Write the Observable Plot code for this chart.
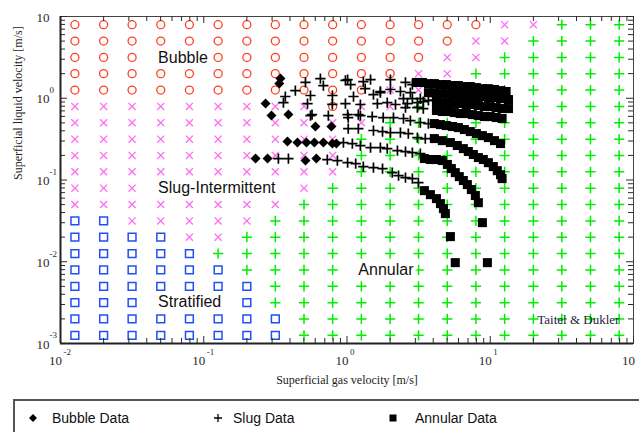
<!DOCTYPE html>
<html>
<head>
<meta charset="utf-8">
<script src="https://cdn.jsdelivr.net/npm/d3@7"></script>
<script src="https://cdn.jsdelivr.net/npm/@observablehq/plot@0.6"></script>
<style>
  html, body { margin: 0; padding: 0; background: #fff; overflow: hidden; }
  #chart svg { display: block; }
  #legend {
    position: relative; margin: 3px 0 0 13px; width: 700px; height: 40px;
    border-top: 2px solid #555; border-left: 2px solid #555;
    font-family: "Liberation Sans", Arial, sans-serif; font-size: 14px; color: #111;
  }
  #legend .item { position: absolute; top: 8px; height: 18px; line-height: 18px; white-space: nowrap; }
  #legend svg { position: absolute; top: 4px; }
</style>
</head>
<body>
<div id="chart"></div>
<div id="legend"></div>
<script>
// Taitel & Dukler regime map, sampled on a 20 x 20 grid (superficial velocities, m/s)
const gridUsg = [0.0126, 0.02, 0.0316, 0.0501, 0.0794, 0.126, 0.2, 0.316, 0.501, 0.794,
                 1.26, 2, 3.16, 5.01, 7.94, 12.6, 20, 31.6, 50.1, 79.4];
const gridUsl = [7.94, 5.01, 3.16, 2, 1.26, 0.794, 0.501, 0.316, 0.2, 0.126,
                 0.0794, 0.0501, 0.0316, 0.02, 0.0126, 0.00794, 0.00501, 0.00316, 0.002, 0.00126];

// one string per liquid row (top row first): b = bubble, i = slug-intermittent, a = annular, s = stratified
const R = (c, n) => c.repeat(n);
const regimeRows = [
  R("b", 15) + R("i", 2) + R("a", 3),
  R("b", 14) + R("i", 2) + R("a", 4),
  R("b", 13) + R("i", 2) + R("a", 5),
  R("b", 12) + R("i", 2) + R("a", 6),
  R("b", 11) + R("i", 2) + R("a", 7),
  R("i", 9) + "b" + R("i", 2) + R("a", 8),
  R("i", 11) + R("a", 9),
  R("i", 10) + R("a", 10),
  R("i", 10) + R("a", 10),
  R("i", 10) + R("a", 10),
  R("i", 9) + R("a", 11),
  R("i", 8) + R("a", 12),
  R("s", 2) + R("i", 5) + R("a", 13),
  R("s", 4) + R("i", 2) + R("a", 14),
  R("s", 5) + R("a", 15),
  R("s", 6) + R("a", 14),
  R("s", 7) + R("a", 13),
  R("s", 7) + R("a", 13),
  R("s", 8) + R("a", 12),
  R("s", 8) + R("a", 12)
];

const regimeLabels = [
  {usg: 0.048, usl: 3.15, label: "Bubble"},
  {usg: 0.048, usl: 0.0807, label: "Slug-Intermittent"},
  {usg: 0.048, usl: 0.00325, label: "Stratified"},
  {usg: 1.2, usl: 0.0080, label: "Annular"}
];
const mapSource = [{usg: 21.3, usl: 0.00195, label: "Taitel & Dukler"}];

// measured points [Usg, Usl]
const bubbleData = [
  [0.343, 1.74], [0.337, 1.51], [0.270, 0.861], [0.297, 0.614], [0.390, 0.631],
  [0.602, 0.451], [0.778, 0.451], [0.384, 0.295], [0.451, 0.287], [0.521, 0.287],
  [0.592, 0.287], [0.684, 0.287], [0.790, 0.279], [0.843, 0.279], [0.230, 0.183],
  [0.279, 0.183], [0.513, 0.173], [0.611, 0.183]
];

const slugData = [
  [0.436, 1.24], [0.513, 1.56], [0.652, 1.74], [0.684, 1.43], [0.975, 1.65], [1.01, 1.69],
  [1.06, 1.47], [1.30, 1.60], [1.46, 1.69], [1.34, 1.31], [2.01, 1.69], [2.56, 1.56],
  [2.86, 1.47], [1.71, 1.17],
  [0.371, 1.05], [0.360, 0.885], [0.556, 1.08], [0.791, 1.08], [1.11, 1.05], [1.53, 1.11],
  [1.71, 1.21], [2.01, 1.28], [2.36, 1.21], [2.77, 1.17], [2.48, 0.99], [2.86, 0.99],
  [3.25, 0.99], [3.70, 0.94], [4.01, 0.94],
  [0.530, 0.861], [0.79, 0.84], [0.975, 0.861], [1.24, 0.838], [1.63, 0.861], [1.91, 0.885],
  [2.18, 0.838], [2.64, 0.861], [3.10, 0.885], [3.41, 0.91], [2.56, 0.769], [3.10, 0.769],
  [3.41, 0.748],
  [0.556, 0.614], [0.57, 0.631], [0.741, 0.614], [1.02, 0.581], [1.01, 0.631], [1.20, 0.631],
  [1.24, 0.614], [1.50, 0.597], [1.79, 0.581], [2.11, 0.581], [2.48, 0.565], [2.77, 0.533],
  [3.25, 0.505], [3.70, 0.490],
  [1.02, 0.426], [1.20, 0.426], [1.53, 0.403], [1.77, 0.391], [2.01, 0.380], [2.36, 0.380],
  [2.68, 0.370], [3.10, 0.330], [3.52, 0.321],
  [0.944, 0.287], [1.09, 0.279], [1.24, 0.264], [1.46, 0.249], [1.71, 0.249], [1.91, 0.242],
  [2.25, 0.229], [2.56, 0.223], [2.86, 0.216], [3.25, 0.210],
  [0.332, 0.183], [0.390, 0.183], [0.729, 0.178], [0.857, 0.173], [1.01, 0.163], [1.15, 0.159],
  [1.30, 0.146], [1.53, 0.142], [1.77, 0.138], [2.07, 0.123], [2.29, 0.113], [2.56, 0.107],
  [2.86, 0.104], [3.15, 0.0929]
];

const annularData = [
  // highest liquid rates
  [3.05, 1.56], [3.36, 1.56], [3.70, 1.51], [4.07, 1.51], [4.49, 1.47], [4.94, 1.47],
  [5.45, 1.43], [5.99, 1.43], [6.59, 1.39], [7.26, 1.39], [8.00, 1.35], [8.81, 1.31],
  [9.70, 1.31], [10.7, 1.28], [11.8, 1.24], [12.9, 1.21],
  [3.70, 1.17], [4.07, 1.17], [4.49, 1.14], [4.94, 1.14], [5.45, 1.11], [5.99, 1.11],
  [6.59, 1.08], [7.26, 1.08], [8.00, 1.05], [8.81, 1.05], [9.70, 1.02], [10.7, 1.02],
  [11.8, 0.99], [13.4, 0.964],
  [4.21, 0.91], [4.63, 0.885], [5.10, 0.885], [5.61, 0.861], [6.18, 0.861], [6.81, 0.838],
  [7.50, 0.838], [8.26, 0.815], [9.10, 0.791], [10.0, 0.791], [11.0, 0.769], [12.1, 0.748],
  [13.4, 0.748],
  [4.21, 0.708], [4.63, 0.688], [5.10, 0.688], [5.61, 0.668], [6.18, 0.650], [6.81, 0.650],
  [7.50, 0.631], [8.26, 0.614], [9.10, 0.597], [10.0, 0.597], [11.0, 0.581], [12.1, 0.565],
  // middle liquid rates
  [4.07, 0.490], [4.49, 0.476], [4.94, 0.463], [5.45, 0.451], [5.99, 0.438], [6.59, 0.414],
  [7.26, 0.391], [8.00, 0.370], [8.81, 0.349], [9.70, 0.330], [10.7, 0.303], [11.8, 0.279],
  [4.07, 0.321], [4.63, 0.303], [5.27, 0.287], [5.89, 0.264], [6.49, 0.242], [7.03, 0.223],
  [7.62, 0.205], [8.26, 0.188], [8.95, 0.178], [9.70, 0.163], [10.5, 0.146], [11.2, 0.130],
  [11.8, 0.116], [12.1, 0.104],
  // lowest liquid rates
  [3.47, 0.183], [3.82, 0.178], [4.21, 0.178], [4.63, 0.173], [5.02, 0.155], [5.35, 0.138],
  [5.70, 0.123], [6.08, 0.110], [6.49, 0.0985], [6.92, 0.0879], [7.38, 0.0764], [7.87, 0.0645],
  [8.26, 0.0528], [8.81, 0.0301],
  [3.47, 0.0741], [3.82, 0.0662], [4.21, 0.0592], [4.49, 0.0514], [4.71, 0.0447], [4.86, 0.0388],
  [5.27, 0.0203], [5.70, 0.00975], [9.55, 0.00975]
];

// axis decades and their exponent labels (the last gas decade sits at the page edge)
const xDecades = [0.01, 0.1, 1, 10, 100];
const xExponents = ["-2", "-1", "0", "1", ""];
const yDecades = [0.001, 0.01, 0.1, 1, 10];
const yExponents = ["-3", "-2", "-1", "0", ""];

const legendLabels = ["Bubble Data", "Slug Data", "Annular Data"];

// ---- layout ----
const W = 639, H = 396, mL = 60, mR = 6, mT = 16, mB = 53;
const frameW = W - mL - mR, frameH = H - mT - mB;
const serif = "'Liberation Serif', 'Times New Roman', serif";
const sans = "'Liberation Sans', Arial, sans-serif";
const axisInk = "#2a2a2a";

const cells = regimeRows.flatMap((row, j) =>
  Array.from(row, (regime, i) => ({usg: gridUsg[i], usl: gridUsl[j], regime})));
const pts = arr => arr.map(([usg, usl]) => ({usg, usl}));
const minorOf = decades => decades.slice(0, -1).flatMap(d => [2, 3, 4, 5, 6, 7, 8, 9].map(k => d * k));
const xMinor = minorOf(xDecades), yMinor = minorOf(yDecades);
const xTicks = xDecades.map((v, i) => ({v, e: xExponents[i]}));
const yTicks = yDecades.map((v, i) => ({v, e: yExponents[i]}));

const tickStyle = {stroke: axisInk, strokeWidth: 1};

const chart = Plot.plot({
  width: W, height: H,
  marginLeft: mL, marginRight: mR, marginTop: mT, marginBottom: mB,
  x: {type: "log", domain: [0.01, 100], axis: null},
  y: {type: "log", domain: [0.001, 10], axis: null},
  style: {fontFamily: sans, background: "white"},
  marks: [
    // regime map
    Plot.dot(cells.filter(d => d.regime === "b"), {x: "usg", y: "usl", symbol: "circle", r: 4, stroke: "#ff4020", strokeWidth: 1.3}),
    Plot.dot(cells.filter(d => d.regime === "i"), {x: "usg", y: "usl", symbol: "times", r: 3.3, stroke: "#ff6cf4", strokeWidth: 1.3}),
    Plot.dot(cells.filter(d => d.regime === "a"), {x: "usg", y: "usl", symbol: "plus", r: 3.4, stroke: "#00ee00", strokeWidth: 1.5}),
    Plot.dot(cells.filter(d => d.regime === "s"), {x: "usg", y: "usl", symbol: "square", r: 4.4, stroke: "#2050f0", strokeWidth: 1.5}),

    // regime names on a white halo
    Plot.text(regimeLabels, {x: "usg", y: "usl", text: "label", textAnchor: "start", fontFamily: sans, fontSize: 16,
      fill: "#111", stroke: "white", strokeWidth: 8, strokeLinejoin: "round"}),
    Plot.text(mapSource, {x: "usg", y: "usl", text: "label", textAnchor: "start", fontFamily: serif, fontSize: 13, fill: "#1c1c3c"}),

    // measurements
    Plot.dot(pts(annularData), {x: "usg", y: "usl", symbol: "square", r: 5.1, fill: "black"}),
    Plot.dot(pts(slugData), {x: "usg", y: "usl", symbol: "plus", r: 3.4, stroke: "black", strokeWidth: 1.7}),
    Plot.dot(pts(bubbleData), {x: "usg", y: "usl", symbol: "diamond2", r: 4.5, fill: "black"}),

    // box with inward ticks on all sides
    Plot.frame({stroke: "#444", strokeWidth: 1}),
    Plot.ruleX(xMinor, {...tickStyle, insetTop: frameH - 5}),
    Plot.ruleX(xDecades, {...tickStyle, insetTop: frameH - 7}),
    Plot.ruleX(xMinor, {...tickStyle, insetBottom: frameH - 5}),
    Plot.ruleX(xDecades, {...tickStyle, insetBottom: frameH - 7}),
    Plot.ruleY(yMinor, {...tickStyle, insetRight: frameW - 5}),
    Plot.ruleY(yDecades, {...tickStyle, insetRight: frameW - 7}),
    Plot.ruleY(yMinor, {...tickStyle, insetLeft: frameW - 5}),
    Plot.ruleY(yDecades, {...tickStyle, insetLeft: frameW - 7}),
    Plot.ruleX([0.01], {stroke: "#222", strokeWidth: 2}),
    Plot.ruleY([0.001], {stroke: "#222", strokeWidth: 2}),

    // decade labels: 10 with a raised exponent
    Plot.text(xTicks, {x: "v", frameAnchor: "bottom", text: () => "10", dx: -5, dy: 21, fontFamily: serif, fontSize: 13, fill: axisInk}),
    Plot.text(xTicks, {x: "v", frameAnchor: "bottom", text: "e", textAnchor: "start", dx: 3, dy: 11, fontFamily: serif, fontSize: 9, fill: axisInk}),
    Plot.text(yTicks, {y: "v", frameAnchor: "left", text: () => "10", dx: -24, dy: 1, fontFamily: serif, fontSize: 13, fill: axisInk}),
    Plot.text(yTicks, {y: "v", frameAnchor: "left", text: "e", textAnchor: "start", dx: -11, dy: -8, fontFamily: serif, fontSize: 9, fill: axisInk}),

    // axis titles
    Plot.text(["Superficial gas velocity [m/s]"], {frameAnchor: "bottom", dy: 40, fontFamily: serif, fontSize: 12, fill: "#222"}),
    Plot.text(["Superficial liquid velocity [m/s]"], {frameAnchor: "left", dx: -42, rotate: -90, fontFamily: serif, fontSize: 12, fill: "#222"})
  ]
});
document.getElementById("chart").append(chart);

// legend row under the chart
const legendIcons = [
  '<svg width="10" height="10"><path d="M5,1L9,5L5,9L1,5Z" fill="black"/></svg>',
  '<svg width="10" height="10"><path d="M5,1V9M1,5H9" stroke="black" stroke-width="1.3"/></svg>',
  '<svg width="10" height="10"><rect x="1.5" y="1.5" width="7" height="7" fill="black"/></svg>'
];
const legendSlots = [{icon: 13, text: 37}, {icon: 198, text: 218}, {icon: 373, text: 400}];
const legend = document.getElementById("legend");
legendLabels.forEach((label, i) => {
  const icon = document.createElement("div");
  icon.className = "item";
  icon.style.left = legendSlots[i].icon + "px";
  icon.innerHTML = legendIcons[i];
  const text = document.createElement("div");
  text.className = "item";
  text.style.left = legendSlots[i].text + "px";
  text.textContent = label;
  legend.append(icon, text);
});
</script>
</body>
</html>
